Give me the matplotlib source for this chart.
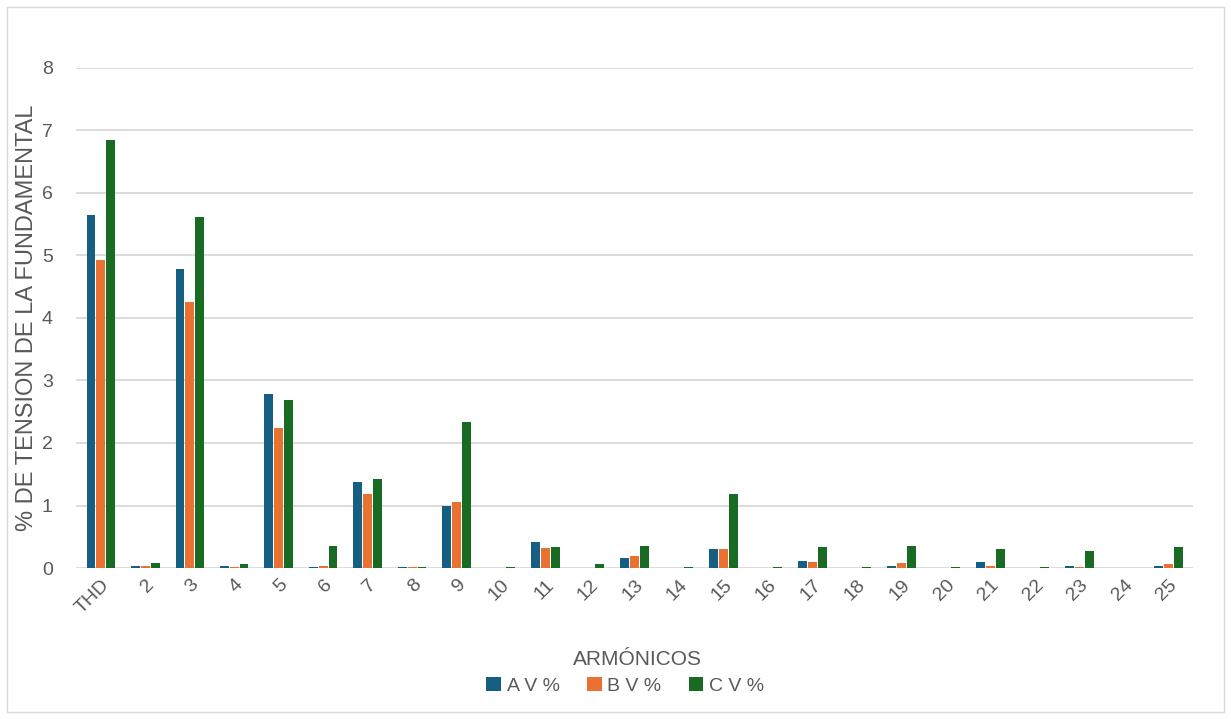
import numpy as np
import matplotlib
matplotlib.use("Agg")
import matplotlib.pyplot as plt
from matplotlib.patches import Rectangle

plt.rcParams['font.family'] = ['Liberation Sans', 'DejaVu Sans']

categories = ['THD', '2', '3', '4', '5', '6', '7', '8', '9', '10', '11', '12', '13',
              '14', '15', '16', '17', '18', '19', '20', '21', '22', '23', '24', '25']
a_v = [5.65, 0.03, 4.78, 0.03, 2.78, 0.02, 1.38, 0.01, 0.99, 0.005, 0.42, 0.0, 0.16,
       0.005, 0.31, 0.005, 0.11, 0.005, 0.04, 0.005, 0.09, 0.0, 0.04, 0.0, 0.03]
b_v = [4.93, 0.03, 4.26, 0.02, 2.24, 0.03, 1.18, 0.01, 1.06, 0.005, 0.32, 0.0, 0.20,
       0.005, 0.30, 0.005, 0.09, 0.005, 0.08, 0.005, 0.04, 0.005, 0.02, 0.0, 0.06]
c_v = [6.85, 0.08, 5.62, 0.06, 2.69, 0.36, 1.42, 0.02, 2.34, 0.01, 0.34, 0.06, 0.35,
       0.01, 1.19, 0.01, 0.33, 0.01, 0.36, 0.01, 0.31, 0.01, 0.28, 0.0, 0.33]
series_names = ['A V %', 'B V %', 'C V %']
colors = ['#156082', '#E97132', '#196B24']

text_col = '#595959'
grid_col = '#D9D9D9'

fig = plt.figure(figsize=(12.31, 7.19), dpi=100)
ax = fig.add_axes([0.062, 0.21, 0.907, 0.6955])

x = np.arange(len(categories))
w = 0.2
for i, (vals, name, col) in enumerate(zip([a_v, b_v, c_v], series_names, colors)):
    ax.bar(x + (i - 1) * (w + 0.02), vals, width=w, color=col, label=name, zorder=3)

ax.set_xlim(-0.55, len(categories) - 0.45)
ax.set_ylim(0, 8)
ax.set_yticks(range(0, 9))
ax.yaxis.grid(True, color=grid_col, linewidth=1.3, zorder=0)
for s in ax.spines.values():
    s.set_visible(False)
ax.tick_params(axis='both', length=0, colors=text_col, labelsize=14)
ax.tick_params(axis='y', pad=17)
ax.tick_params(axis='x', pad=6)
ax.set_xticks(x)
ax.set_xticklabels(categories, rotation=45, ha='right', rotation_mode='anchor')

ax.set_ylabel('% DE TENSION DE LA FUNDAMENTAL', color=text_col, fontsize=17, labelpad=3)
ax.set_xlabel('ARMÓNICOS', color=text_col, fontsize=15)
ax.xaxis.set_label_coords(0.503, -0.163)

fig.legend(loc='center', bbox_to_anchor=(0.508, 0.046), ncol=3, frameon=False,
           fontsize=14, labelcolor=text_col, handlelength=0.75, handleheight=0.75,
           handletextpad=0.3, columnspacing=1.4)

fig.patches.append(Rectangle((0.006, 0.01), 0.988, 0.98, transform=fig.transFigure,
                             fill=False, edgecolor=grid_col, linewidth=1))

fig.savefig('out.png', dpi=100)
